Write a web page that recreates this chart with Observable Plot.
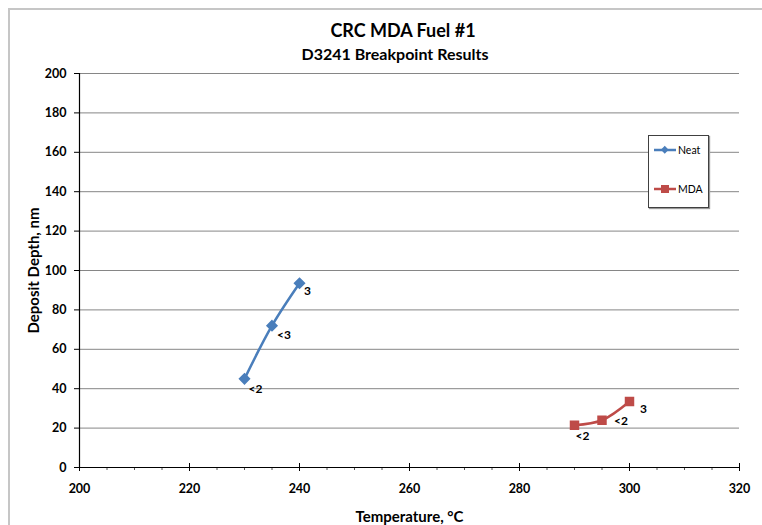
<!DOCTYPE html>
<html><head><meta charset="utf-8">
<script src="https://cdn.jsdelivr.net/npm/d3@7"></script>
<script src="https://cdn.jsdelivr.net/npm/@observablehq/plot@0.6"></script>
<style>
body{margin:0;background:#fff;font-family:Lato,"Open Sans",sans-serif;}
#wrap{position:relative;width:762px;height:525px;overflow:hidden;}
#frame{position:absolute;left:8px;top:8px;width:900px;height:900px;border-top:2px solid #c6c6c6;border-left:2px solid #c6c6c6;pointer-events:none;}
#titles{height:65px;position:relative;}
#t1{position:absolute;left:0;width:806px;top:19px;text-align:center;font-weight:bold;font-size:18px;color:#000;}
#t2{position:absolute;left:0;width:790px;top:44px;text-align:center;font-weight:bold;font-size:16px;color:#000;}
#legend{position:absolute;left:648px;top:135px;width:59px;height:71px;background:#fff;border:1px solid #404040;box-shadow:1px 1px 1px #999;font-size:10.5px;}
.item{position:absolute;left:5px;display:flex;align-items:center;}
.item span{margin-left:2px;}
</style></head>
<body>
<div id="wrap">
<div id="titles"><div id="t1">CRC MDA Fuel #1</div><div id="t2">D3241 Breakpoint Results</div></div>
<div id="chart"></div>
<div id="legend"></div>
<div id="frame"></div>
</div>
<script>
const neatTemp = [230, 235, 240];
const neatDepth = [45, 72, 93.5];
const neatLabels = ["<2", "<3", "3"];
const mdaTemp = [290, 295, 300];
const mdaDepth = [21.5, 24, 33.5];
const mdaLabels = ["<2", "<2", "3"];
const seriesNames = ["Neat", "MDA"];
const xTicks = [200, 220, 240, 260, 280, 300, 320];
const yTicks = [0, 20, 40, 60, 80, 100, 120, 140, 160, 180, 200];

const blue = "#4a7ebb", red = "#be4b48";
const neat = neatTemp.map((t, i) => ({t, d: neatDepth[i], label: neatLabels[i], i}));
const mda = mdaTemp.map((t, i) => ({t, d: mdaDepth[i], label: mdaLabels[i], i}));
const minor = d3.range(200, 321, 5).filter(v => v % 20 !== 0);

// label offsets (style)
const neatOff = [[11, 10], [12, 9], [8, 8]];
const mdaOff = [[8, 11], [19, 1], [14, 8]];
const labelMarks = [];
neatOff.forEach(([dx, dy], k) => labelMarks.push(Plot.text(neat.filter(p => p.i === k), {x: "t", y: "d", text: "label", dx, dy, fontWeight: "bold", fontSize: 12, fill: "#000"})));
mdaOff.forEach(([dx, dy], k) => labelMarks.push(Plot.text(mda.filter(p => p.i === k), {x: "t", y: "d", text: "label", dx, dy, fontWeight: "bold", fontSize: 12, fill: "#000"})));

const chart = Plot.plot({
  width: 762, height: 460,
  marginLeft: 79, marginRight: 23, marginTop: 8, marginBottom: 58,
  style: {fontFamily: "Lato, 'Open Sans', sans-serif", background: "transparent", overflow: "visible"},
  x: {domain: [200, 320]},
  y: {domain: [0, 200]},
  marks: [
    Plot.gridY(yTicks.filter(v => v > 0), {stroke: "#868686", strokeOpacity: 1, strokeWidth: 1}),
    Plot.axisY(yTicks, {tickSize: 5, tickPadding: 8, fontWeight: "bold", fontSize: 12.5, label: null, stroke: "#000"}),
    Plot.axisY({ticks: [], label: "Deposit Depth, nm", labelAnchor: "center", labelArrow: "none", labelOffset: 51, fontWeight: "bold", fontSize: 15}),
    Plot.axisX(xTicks, {tickSize: 4, tickPadding: 13, fontWeight: "bold", fontSize: 12.5, label: null, stroke: "#000"}),
    Plot.axisX(xTicks, {tickSize: -4, text: null, label: null, stroke: "#000"}),
    Plot.axisX(minor, {tickSize: 3, text: null, label: null, stroke: "#555"}),
    Plot.axisX({ticks: [], label: "Temperature, °C", labelAnchor: "center", labelArrow: "none", labelOffset: 54, fontWeight: "bold", fontSize: 15}),
    Plot.ruleY([0], {stroke: "#000", strokeWidth: 1.2}),
    Plot.ruleX([200], {stroke: "#000", strokeWidth: 1.2}),
    Plot.line(neat, {x: "t", y: "d", stroke: blue, strokeWidth: 2.5, curve: "catmull-rom"}),
    Plot.dot(neat, {x: "t", y: "d", symbol: "diamond2", r: 4.5, fill: blue, stroke: blue}),
    Plot.line(mda, {x: "t", y: "d", stroke: red, strokeWidth: 2.5, curve: "catmull-rom"}),
    Plot.dot(mda, {x: "t", y: "d", symbol: "square", r: 4.5, fill: red, stroke: red}),
    ...labelMarks
  ]
});
document.getElementById("chart").appendChild(chart);

// legend
const leg = document.getElementById("legend");
const legendDefs = [
  {name: seriesNames[0], color: blue, shape: "diamond", top: 8},
  {name: seriesNames[1], color: red, shape: "square", top: 47}
];
legendDefs.forEach(s => {
  const div = document.createElement("div");
  div.className = "item";
  div.style.top = s.top + "px";
  const marker = s.shape === "diamond"
    ? `<rect x="8" y="3" width="5.5" height="5.5" fill="${s.color}" transform="rotate(45 10.75 5.75)"/>`
    : `<rect x="7" y="2" width="8" height="8" fill="${s.color}"/>`;
  div.innerHTML = `<svg width="22" height="12"><line x1="0" x2="22" y1="6" y2="6" stroke="${s.color}" stroke-width="2.5"/>${marker}</svg><span>${s.name}</span>`;
  leg.appendChild(div);
});
</script>
</body></html>
